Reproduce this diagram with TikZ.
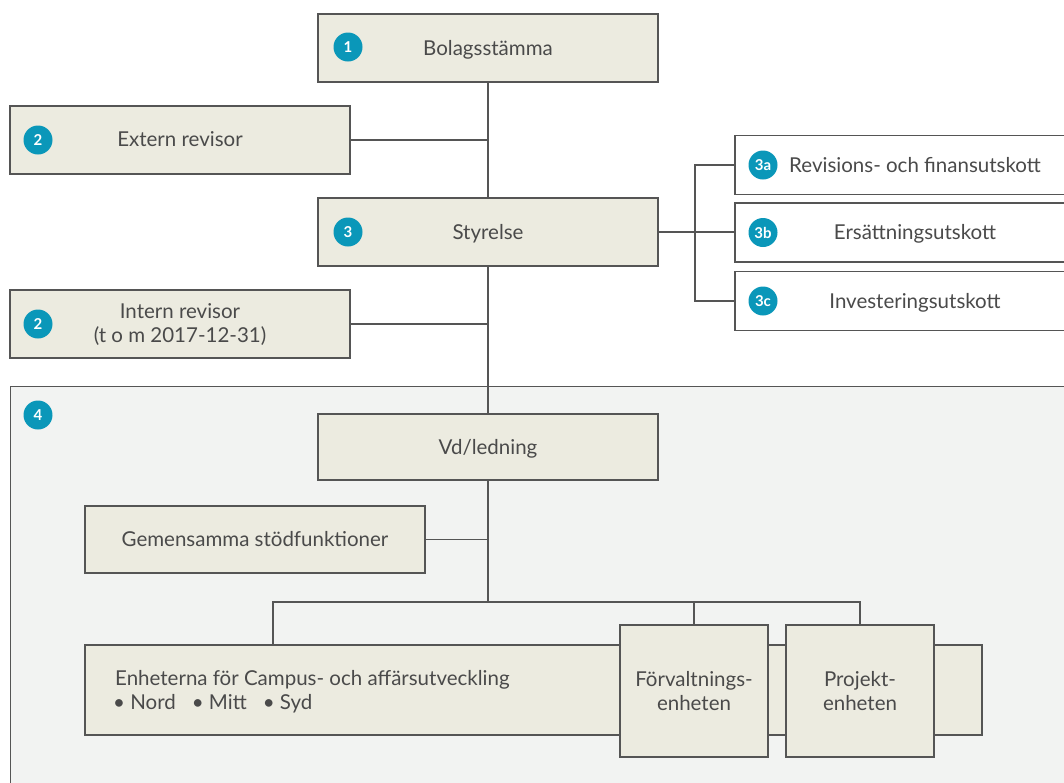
\documentclass[tikz,border=0pt]{standalone}
\usepackage{fontspec}
\setmainfont{Lato}
\definecolor{beige}{HTML}{ECEBE0}
\definecolor{regionbg}{HTML}{F2F3F2}
\definecolor{badgec}{HTML}{0A97B9}
\definecolor{linec}{HTML}{555555}
\definecolor{txtc}{HTML}{4A4A4A}
\begin{document}
\begin{tikzpicture}[x=1pt,y=-1pt,
  box/.style={draw=linec, fill=beige, line width=1.2pt, minimum width=340pt, minimum height=68pt, inner sep=0pt, text=txtc, font=\fontsize{20.5}{24}\selectfont, align=center, text depth=1pt},
  wbox/.style={box, fill=white, minimum width=360pt, minimum height=59pt},
  badge/.style={circle, fill=badgec, text=white, minimum size=29pt, inner sep=0pt, font=\fontsize{15}{15}\selectfont\bfseries},
  conn/.style={draw=linec, line width=1.1pt},
  lbl/.style={text=txtc, font=\fontsize{20.5}{24}\selectfont, inner sep=0pt}
]
\useasboundingbox (0,0) rectangle (1064,782);
\clip (0,0) rectangle (1064,782);
% region 4
\node[draw=linec, fill=regionbg, line width=1.2pt, minimum width=1080pt, minimum height=420pt, inner sep=0pt, anchor=north west] (reg) at (10,386) {};
% boxes
\node[box] (bol) at (488,48) {Bolagsstämma};
\node[box] (ext) at (180,140) {Extern revisor};
\node[box] (sty) at (488,232) {Styrelse};
\node[box] (int) at (180,324) {Intern revisor\\(t o m 2017-12-31)};
\node[wbox] (s3a) at (915,165) {Revisions- och finansutskott};
\node[wbox] (s3b) at (915,232.5) {Ersättningsutskott};
\node[wbox] (s3c) at (915,301) {Investeringsutskott};
\node[box, minimum height=66pt] (vd) at (488,447) {Vd/ledning};
\node[box, minimum height=67pt] (gem) at (255,539.5) {Gemensamma stödfunktioner};
\node[box, minimum width=897pt, minimum height=90pt] (big) at (533.5,690) {};
\node[lbl, anchor=west, align=left] (bigt) at (115,692) {Enheterna för Campus- och affärsutveckling\\\hspace*{-2pt}• Nord\hspace{16pt}• Mitt\hspace{16pt}• Syd};
\node[box, minimum width=148pt, minimum height=132pt] (forv) at (694,691) {Förvaltnings-\\enheten};
\node[box, minimum width=148pt, minimum height=132pt] (proj) at (860,691) {Projekt-\\enheten};
% badges
\node[badge] (b1) at (348,47) {1};
\node[badge] (b2a) at (38,140) {2};
\node[badge] (b3) at (348,232) {3};
\node[badge] (b2b) at (38,324) {2};
\node[badge] (b3a) at (763,165) {3a};
\node[badge] (b3b) at (763,232.5) {3b};
\node[badge] (b3c) at (763,301) {3c};
\node[badge] (b4) at (38,415) {4};
% connectors
\draw[conn] (bol.south) -- (sty.north);
\draw[conn] (sty.south) -- (vd.north);
\draw[conn] (ext.east) -- (ext.east -| sty.north);
\draw[conn] (int.east) -- (int.east -| sty.south);
\coordinate (bk) at (695,233);
\draw[conn] (sty.east) -- (sty.east -| s3b.west);
\draw[conn] (s3a.west) -- (s3a.west -| bk) -- (s3c.west -| bk) -- (s3c.west);
\draw[conn] (gem.east) -- (gem.east -| vd.south);
\coordinate (jn) at (488,602);
\coordinate (jl) at (273,602);
\coordinate (jr) at (860,602);
\draw[conn] (vd.south) -- (jn);
\draw[conn] (jl |- big.north) -- (jl) -- (jr) -- (proj.north);
\draw[conn] (jl -| forv.north) -- (forv.north);
\end{tikzpicture}
\end{document}
